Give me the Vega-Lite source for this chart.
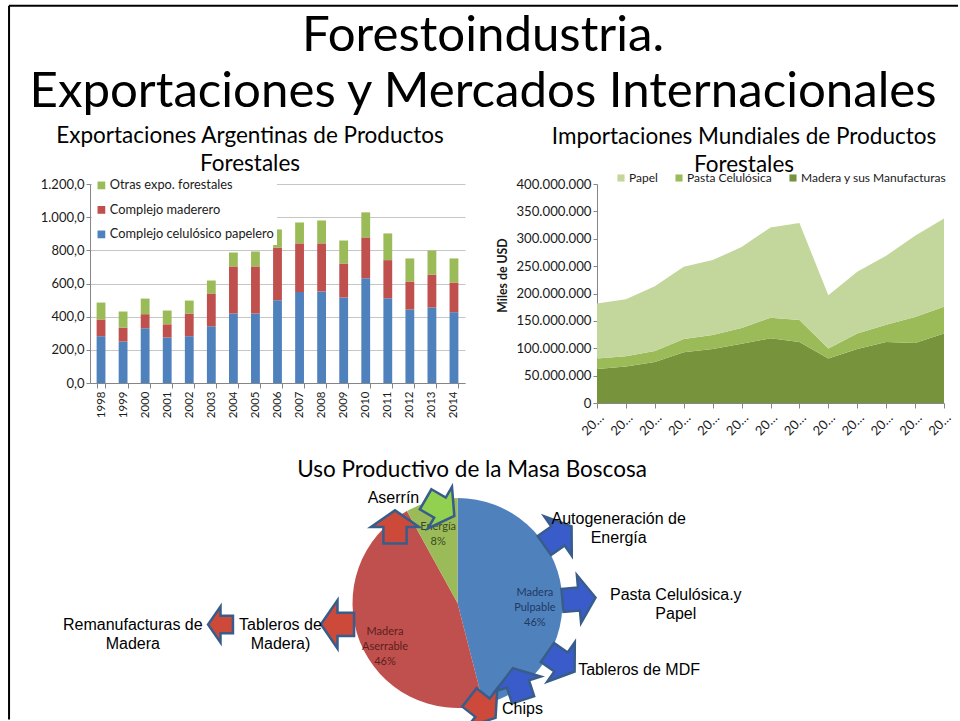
{
  "$schema": "https://vega.github.io/schema/vega-lite/v6.json",
  "background": "white",
  "padding": {"left": 8, "top": 4, "right": 0, "bottom": 0},
  "title": {
    "text": ["Forestoindustria.", "Exportaciones y Mercados Internacionales"],
    "fontSize": 49.2, "lineHeight": 56, "font": "Lato", "fontWeight": "normal", "color": "#000000",
    "anchor": "middle", "frame": "bounds", "dx": -0.5, "offset": -112
  },
  "spacing": -434,
  "resolve": {"scale": {"color": "independent"}, "legend": {"color": "independent"}},
  "datasets": {
    "export": [
      {"anio": 1998, "serie": "Complejo celulósico papelero", "valor": 282}, {"anio": 1998, "serie": "Complejo maderero", "valor": 101}, {"anio": 1998, "serie": "Otras expo. forestales", "valor": 102},
      {"anio": 1999, "serie": "Complejo celulósico papelero", "valor": 250}, {"anio": 1999, "serie": "Complejo maderero", "valor": 84}, {"anio": 1999, "serie": "Otras expo. forestales", "valor": 97},
      {"anio": 2000, "serie": "Complejo celulósico papelero", "valor": 330}, {"anio": 2000, "serie": "Complejo maderero", "valor": 85}, {"anio": 2000, "serie": "Otras expo. forestales", "valor": 94},
      {"anio": 2001, "serie": "Complejo celulósico papelero", "valor": 274}, {"anio": 2001, "serie": "Complejo maderero", "valor": 80}, {"anio": 2001, "serie": "Otras expo. forestales", "valor": 83},
      {"anio": 2002, "serie": "Complejo celulósico papelero", "valor": 282}, {"anio": 2002, "serie": "Complejo maderero", "valor": 137}, {"anio": 2002, "serie": "Otras expo. forestales", "valor": 78},
      {"anio": 2003, "serie": "Complejo celulósico papelero", "valor": 342}, {"anio": 2003, "serie": "Complejo maderero", "valor": 198}, {"anio": 2003, "serie": "Otras expo. forestales", "valor": 78},
      {"anio": 2004, "serie": "Complejo celulósico papelero", "valor": 419}, {"anio": 2004, "serie": "Complejo maderero", "valor": 284}, {"anio": 2004, "serie": "Otras expo. forestales", "valor": 84},
      {"anio": 2005, "serie": "Complejo celulósico papelero", "valor": 419}, {"anio": 2005, "serie": "Complejo maderero", "valor": 284}, {"anio": 2005, "serie": "Otras expo. forestales", "valor": 90},
      {"anio": 2006, "serie": "Complejo celulósico papelero", "valor": 499}, {"anio": 2006, "serie": "Complejo maderero", "valor": 318}, {"anio": 2006, "serie": "Otras expo. forestales", "valor": 109},
      {"anio": 2007, "serie": "Complejo celulósico papelero", "valor": 548}, {"anio": 2007, "serie": "Complejo maderero", "valor": 294}, {"anio": 2007, "serie": "Otras expo. forestales", "valor": 126},
      {"anio": 2008, "serie": "Complejo celulósico papelero", "valor": 552}, {"anio": 2008, "serie": "Complejo maderero", "valor": 290}, {"anio": 2008, "serie": "Otras expo. forestales", "valor": 138},
      {"anio": 2009, "serie": "Complejo celulósico papelero", "valor": 515}, {"anio": 2009, "serie": "Complejo maderero", "valor": 206}, {"anio": 2009, "serie": "Otras expo. forestales", "valor": 139},
      {"anio": 2010, "serie": "Complejo celulósico papelero", "valor": 632}, {"anio": 2010, "serie": "Complejo maderero", "valor": 246}, {"anio": 2010, "serie": "Otras expo. forestales", "valor": 151},
      {"anio": 2011, "serie": "Complejo celulósico papelero", "valor": 511}, {"anio": 2011, "serie": "Complejo maderero", "valor": 230}, {"anio": 2011, "serie": "Otras expo. forestales", "valor": 161},
      {"anio": 2012, "serie": "Complejo celulósico papelero", "valor": 443}, {"anio": 2012, "serie": "Complejo maderero", "valor": 169}, {"anio": 2012, "serie": "Otras expo. forestales", "valor": 139},
      {"anio": 2013, "serie": "Complejo celulósico papelero", "valor": 455}, {"anio": 2013, "serie": "Complejo maderero", "valor": 199}, {"anio": 2013, "serie": "Otras expo. forestales", "valor": 145},
      {"anio": 2014, "serie": "Complejo celulósico papelero", "valor": 427}, {"anio": 2014, "serie": "Complejo maderero", "valor": 179}, {"anio": 2014, "serie": "Otras expo. forestales", "valor": 145}
    ],
    "import": [
      {"anio": 2001, "serie": "Madera y sus Manufacturas", "orden": 1, "valor": 62200000}, {"anio": 2001, "serie": "Pasta Celulósica", "orden": 2, "valor": 18900000}, {"anio": 2001, "serie": "Papel", "orden": 3, "valor": 100600000},
      {"anio": 2002, "serie": "Madera y sus Manufacturas", "orden": 1, "valor": 66500000}, {"anio": 2002, "serie": "Pasta Celulósica", "orden": 2, "valor": 18900000}, {"anio": 2002, "serie": "Papel", "orden": 3, "valor": 104200000},
      {"anio": 2003, "serie": "Madera y sus Manufacturas", "orden": 1, "valor": 75000000}, {"anio": 2003, "serie": "Pasta Celulósica", "orden": 2, "valor": 20100000}, {"anio": 2003, "serie": "Papel", "orden": 3, "valor": 118300000},
      {"anio": 2004, "serie": "Madera y sus Manufacturas", "orden": 1, "valor": 92700000}, {"anio": 2004, "serie": "Pasta Celulósica", "orden": 2, "valor": 24400000}, {"anio": 2004, "serie": "Papel", "orden": 3, "valor": 131700000},
      {"anio": 2005, "serie": "Madera y sus Manufacturas", "orden": 1, "valor": 98800000}, {"anio": 2005, "serie": "Pasta Celulósica", "orden": 2, "valor": 25600000}, {"anio": 2005, "serie": "Papel", "orden": 3, "valor": 136600000},
      {"anio": 2006, "serie": "Madera y sus Manufacturas", "orden": 1, "valor": 108000000}, {"anio": 2006, "serie": "Pasta Celulósica", "orden": 2, "valor": 29200000}, {"anio": 2006, "serie": "Papel", "orden": 3, "valor": 147600000},
      {"anio": 2007, "serie": "Madera y sus Manufacturas", "orden": 1, "valor": 118300000}, {"anio": 2007, "serie": "Pasta Celulósica", "orden": 2, "valor": 37200000}, {"anio": 2007, "serie": "Papel", "orden": 3, "valor": 165200000},
      {"anio": 2008, "serie": "Madera y sus Manufacturas", "orden": 1, "valor": 111600000}, {"anio": 2008, "serie": "Pasta Celulósica", "orden": 2, "valor": 40200000}, {"anio": 2008, "serie": "Papel", "orden": 3, "valor": 176900000},
      {"anio": 2009, "serie": "Madera y sus Manufacturas", "orden": 1, "valor": 81100000}, {"anio": 2009, "serie": "Pasta Celulósica", "orden": 2, "valor": 18300000}, {"anio": 2009, "serie": "Papel", "orden": 3, "valor": 97600000},
      {"anio": 2010, "serie": "Madera y sus Manufacturas", "orden": 1, "valor": 98800000}, {"anio": 2010, "serie": "Pasta Celulósica", "orden": 2, "valor": 28000000}, {"anio": 2010, "serie": "Papel", "orden": 3, "valor": 112800000},
      {"anio": 2011, "serie": "Madera y sus Manufacturas", "orden": 1, "valor": 111600000}, {"anio": 2011, "serie": "Pasta Celulósica", "orden": 2, "valor": 31100000}, {"anio": 2011, "serie": "Papel", "orden": 3, "valor": 126200000},
      {"anio": 2012, "serie": "Madera y sus Manufacturas", "orden": 1, "valor": 109800000}, {"anio": 2012, "serie": "Pasta Celulósica", "orden": 2, "valor": 47500000}, {"anio": 2012, "serie": "Papel", "orden": 3, "valor": 148200000},
      {"anio": 2013, "serie": "Madera y sus Manufacturas", "orden": 1, "valor": 126800000}, {"anio": 2013, "serie": "Pasta Celulósica", "orden": 2, "valor": 48800000}, {"anio": 2013, "serie": "Papel", "orden": 3, "valor": 161600000}
    ],
    "uso": [
      {"tipo": "Madera Pulpable", "pct": 46, "orden": 1, "etiqueta": "Madera\nPulpable\n46%"},
      {"tipo": "Madera Aserrable", "pct": 46, "orden": 2, "etiqueta": "Madera\nAserrable\n46%"},
      {"tipo": "Energía", "pct": 8, "orden": 3, "etiqueta": "Energía\n8%"}
    ],
    "flechas": [
      {"x": -2.257, "y": -0.205, "angulo": 180, "etapa": "secundaria", "origen": "Madera Aserrable"},
      {"x": -1.143, "y": -0.203, "angulo": 180, "etapa": "primaria", "origen": "Madera Aserrable"},
      {"x": -0.595, "y": 0.724, "angulo": -90, "etapa": "primaria", "origen": "Madera Aserrable"},
      {"x": -0.167, "y": 0.908, "angulo": 30, "etapa": "primaria", "origen": "Energía"},
      {"x": 0.957, "y": 0.638, "angulo": -35, "etapa": "primaria", "origen": "Madera Pulpable"},
      {"x": 1.157, "y": 0.038, "angulo": -5, "etapa": "primaria", "origen": "Madera Pulpable"},
      {"x": 0.986, "y": -0.562, "angulo": 35, "etapa": "primaria", "origen": "Madera Pulpable"},
      {"x": 0.576, "y": -0.771, "angulo": -108, "etapa": "primaria", "origen": "Madera Pulpable"},
      {"x": 0.238, "y": -0.997, "angulo": 38, "etapa": "primaria", "origen": "Madera Aserrable"}
    ],
    "notas": [
      {"x": -3.092, "y": -0.21, "texto": "Remanufacturas de\nMadera"},
      {"x": -1.686, "y": -0.21, "texto": "Tableros de\nMadera)"},
      {"x": -0.61, "y": 1.0, "texto": "Aserrín"},
      {"x": 1.535, "y": 0.796, "texto": "Autogeneración de\nEnergía"},
      {"x": 2.079, "y": 0.076, "texto": "Pasta Celulósica.y\nPapel"},
      {"x": 1.729, "y": -0.641, "texto": "Tableros de MDF"},
      {"x": 0.619, "y": -1.012, "texto": "Chips"}
    ],
    "marco": [{"elemento": "marco"}]
  },
  "vconcat": [
    {
      "spacing": 30,
      "resolve": {"scale": {"color": "independent"}, "legend": {"color": "independent"}},
      "hconcat": [
        {
          "width": 375, "height": 199,
          "title": {"text": ["Exportaciones Argentinas de Productos", "Forestales"], "fontSize": 22.5, "lineHeight": 28.4, "anchor": "middle", "frame": "group", "dx": -27.5, "offset": 0},
          "data": {"name": "export"},
          "mark": {"type": "bar"},
          "encoding": {
            "x": {"field": "anio", "type": "ordinal", "scale": {"paddingInner": 0.6, "paddingOuter": 0.3},
                  "axis": {"title": null, "labelAngle": -90, "labelFontSize": 11.5, "tickBand": "extent", "tickSize": 5, "labelPadding": 3, "grid": false}},
            "y": {"field": "valor", "type": "quantitative", "stack": "zero", "scale": {"domain": [0, 1200], "nice": false},
                  "axis": {"title": null, "values": [0, 200, 400, 600, 800, 1000, 1200], "format": ",.1f", "labelFontSize": 13, "tickSize": 4, "labelPadding": 2, "gridColor": "#C6C6C6"}},
            "color": {"field": "serie", "type": "nominal",
                      "scale": {"domain": ["Otras expo. forestales", "Complejo maderero", "Complejo celulósico papelero"], "range": ["#9BBB59", "#C0504D", "#4F81BD"]},
                      "legend": {"orient": "none", "legendX": 2, "legendY": -8, "title": null, "direction": "vertical", "symbolType": "square", "symbolSize": 60, "symbolStrokeWidth": 0, "labelFontSize": 12.8, "rowPadding": 10.5, "fillColor": "white", "padding": 3, "labelLimit": 260, "labelOffset": 2}},
            "order": {"field": "serie", "sort": "ascending"}
          }
        },
        {
          "width": 347, "height": 219,
          "title": {"text": ["Importaciones Mundiales de Productos", "Forestales"], "fontSize": 22.5, "lineHeight": 28.4, "anchor": "middle", "frame": "group", "dx": -26.5, "offset": -7},
          "data": {"name": "import"},
          "mark": {"type": "area", "opacity": 1},
          "encoding": {
            "x": {"field": "anio", "type": "ordinal", "scale": {"type": "point", "padding": 0},
                  "axis": {"title": null, "labelAngle": -45, "labelExpr": "substring(datum.label, 0, 2) + '…'", "labelFontSize": 13, "tickSize": 5, "labelPadding": 3, "grid": false}},
            "y": {"field": "valor", "type": "quantitative", "stack": "zero", "scale": {"domain": [0, 400000000], "nice": false},
                  "axis": {"title": "Miles de USD", "titleFontSize": 12.3, "titleFontWeight": "bold", "titleX": -88, "titleY": 91,
                           "values": [0, 50000000, 100000000, 150000000, 200000000, 250000000, 300000000, 350000000, 400000000],
                           "format": ",.0f", "labelFontSize": 13.2, "tickSize": 4, "labelPadding": 2, "grid": false}},
            "color": {"field": "serie", "type": "nominal",
                      "scale": {"domain": ["Papel", "Pasta Celulósica", "Madera y sus Manufacturas"], "range": ["#C3D69B", "#9BBB59", "#77933C"]},
                      "legend": {"orient": "none", "legendX": 16, "legendY": -14, "direction": "horizontal", "title": null, "symbolType": "square", "symbolSize": 50, "symbolStrokeWidth": 0, "labelFontSize": 12, "columnPadding": 15, "labelOffset": 2, "padding": 2, "labelLimit": 260}},
            "order": {"field": "orden", "type": "quantitative"}
          }
        }
      ]
    },
    {
      "width": 735, "height": 234,
      "title": {"text": "Uso Productivo de la Masa Boscosa", "fontSize": 22.5, "anchor": "middle", "frame": "group", "dx": 14.5, "offset": -476.7},
      "resolve": {"scale": {"color": "independent"}},
      "layer": [
        {
          "data": {"name": "uso"},
          "mark": {"type": "arc", "outerRadius": 105},
          "encoding": {
            "theta": {"field": "pct", "type": "quantitative", "stack": true},
            "order": {"field": "orden", "type": "quantitative"},
            "color": {"field": "tipo", "type": "nominal", "scale": {"domain": ["Madera Pulpable", "Madera Aserrable", "Energía"], "range": ["#4F81BD", "#C0504D", "#9BBB59"]}, "legend": null}
          }
        },
        {
          "data": {"name": "uso"},
          "mark": {"type": "text", "radius": 78, "lineBreak": "\n", "font": "Lato", "fontSize": 11, "lineHeight": 15, "align": "center", "baseline": "middle"},
          "encoding": {
            "theta": {"field": "pct", "type": "quantitative", "stack": true},
            "order": {"field": "orden", "type": "quantitative"},
            "text": {"field": "etiqueta"},
            "color": {"field": "tipo", "type": "nominal", "scale": {"domain": ["Madera Pulpable", "Madera Aserrable", "Energía"], "range": ["#1F3A5F", "#5B1F1D", "#3B4A1E"]}, "legend": null}
          }
        },
        {
          "data": {"name": "flechas"},
          "mark": {"type": "point", "shape": "M-1,-0.7L0,-0.7L0,-1.45L1,0L0,1.45L0,0.7L-1,0.7Z", "filled": true, "opacity": 1, "stroke": "#385D8A", "strokeWidth": 2.5, "strokeJoin": "miter"},
          "encoding": {
            "x": {"field": "x", "type": "quantitative", "scale": {"domain": [-3.5, 3.5], "nice": false, "zero": false}, "axis": null},
            "y": {"field": "y", "type": "quantitative", "scale": {"domain": [-1.114, 1.114], "nice": false, "zero": false}, "axis": null},
            "angle": {"field": "angulo", "type": "quantitative", "scale": null},
            "size": {"field": "etapa", "type": "ordinal", "scale": {"domain": ["primaria", "secundaria"], "range": [1100, 620]}, "legend": null},
            "color": {"field": "origen", "type": "nominal", "scale": {"domain": ["Madera Pulpable", "Madera Aserrable", "Energía"], "range": ["#3A5CCB", "#CD4A3B", "#92D050"]}, "legend": null}
          }
        },
        {
          "data": {"name": "notas"},
          "mark": {"type": "text", "font": "Liberation Sans", "fontSize": 16, "lineBreak": "\n", "lineHeight": 18.5, "align": "center", "baseline": "middle", "color": "#000000"},
          "encoding": {
            "x": {"field": "x", "type": "quantitative"},
            "y": {"field": "y", "type": "quantitative"},
            "text": {"field": "texto"}
          }
        },
        {
          "data": {"name": "marco"},
          "mark": {"type": "rule", "color": "#000000", "strokeWidth": 2},
          "encoding": {
            "x": {"datum": -4.271, "type": "quantitative"},
            "y": {"datum": 5.686, "type": "quantitative"},
            "y2": {"datum": -1.11}
          }
        },
        {
          "data": {"name": "marco"},
          "mark": {"type": "rule", "color": "#000000", "strokeWidth": 2},
          "encoding": {
            "x": {"datum": -4.271, "type": "quantitative"},
            "x2": {"datum": 4.767},
            "y": {"datum": 5.686, "type": "quantitative"}
          }
        }
      ]
    }
  ],
  "config": {
    "locale": {"number": {"decimal": ",", "thousands": ".", "grouping": [3], "currency": ["$", ""]}},
    "view": {"stroke": null},
    "font": "Lato",
    "axis": {"labelFont": "Lato", "titleFont": "Lato", "labelColor": "#1a1a1a", "titleColor": "#1a1a1a", "domainColor": "#868686", "tickColor": "#868686"},
    "legend": {"labelFont": "Lato", "labelColor": "#1a1a1a"},
    "title": {"font": "Lato", "fontWeight": "normal", "color": "#000000"}
  }
}
